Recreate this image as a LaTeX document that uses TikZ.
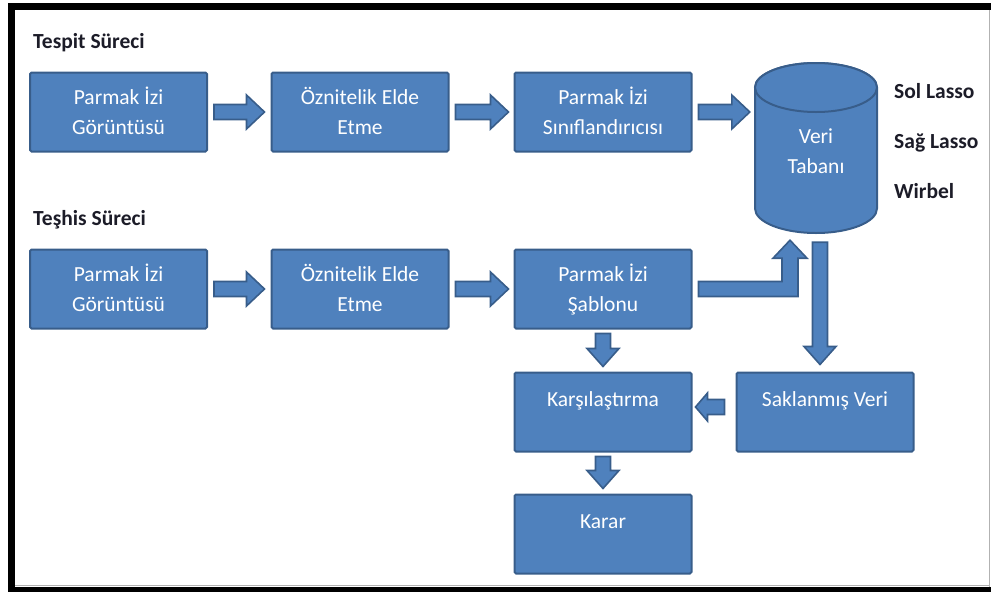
\documentclass[tikz,border=0pt]{standalone}
\usepackage{fontspec}
\setmainfont{Carlito}
\usetikzlibrary{calc}

\definecolor{boxblue}{HTML}{4F81BD}
\definecolor{boxedge}{HTML}{385D8A}
\definecolor{headtxt}{HTML}{1C1C28}

\tikzset{
  flowbox/.style={draw=boxedge, fill=boxblue, line width=2pt, rounded corners=1.5pt,
    minimum width=177pt, minimum height=79pt, inner sep=0pt, align=center,
    text=white, font=\fontsize{21.5}{30}\selectfont, text height=22pt, text depth=34pt},
  twoline/.style={flowbox, text height=50pt, text depth=5pt},
  dbtext/.style={minimum width=122pt, minimum height=170pt, inner sep=0pt, align=center,
    text=white, font=\fontsize{21.5}{30}\selectfont, text height=55pt, text depth=5pt},
  dbshape/.style={draw=boxedge, fill=boxblue, line width=2pt},
  blockarrow/.style={draw=boxedge, fill=boxblue, line width=1.6pt, line join=miter},
  heading/.style={anchor=base west, inner sep=0pt, text=headtxt,
    font=\fontsize{21.5}{26}\selectfont\bfseries},
}

% block arrow: start, end, head half width, head length
\newcommand{\blockarrow}[4]{%
  \path (#1) coordinate (ba-s) (#2) coordinate (ba-e);
  \path ($(ba-e)!#4pt!(ba-s)$) coordinate (ba-b);
  \draw[blockarrow] ($(ba-s)!7.5pt!90:(ba-e)$) -- ($(ba-b)!7.5pt!90:(ba-e)$)
    -- ($(ba-b)!#3pt!90:(ba-e)$) -- (ba-e) -- ($(ba-b)!#3pt!-90:(ba-e)$)
    -- ($(ba-b)!7.5pt!-90:(ba-e)$) -- ($(ba-s)!7.5pt!-90:(ba-e)$) -- cycle;
}

\begin{document}
\begin{tikzpicture}[x=1pt,y=-1pt]
  \useasboundingbox (0,0) rectangle (991,592);
  % frame
  \fill (8,3) rectangle (991,10);
  \fill (8,3) rectangle (15,592);
  \fill (8,587) rectangle (991,592);
  \draw[black!30, line width=1pt] (989.5,10) -- (989.5,587);
  \draw[black!30, line width=1pt] (15,585.5) -- (989.5,585.5);

  % titles
  \node[heading] (tespit) at (33,48) {Tespit Süreci};
  \node[heading] (teshis) at (33,225) {Teşhis Süreci};
  \node[heading] (sol) at (894,98) {Sol Lasso};
  \node[heading] (sag) at (894,148) {Sağ Lasso};
  \node[heading] (wirbel) at (894,198) {Wirbel};

  % first row
  \node[twoline] (tgor) at (118.5,112) {Parmak İzi\\Görüntüsü};
  \node[twoline] (tozn) at (360,112) {Öznitelik Elde\\Etme};
  \node[twoline] (tsin) at (603,112) {Parmak İzi\\Sınıflandırıcısı};

  % database
  \draw[dbshape] (755,87.5) -- (755,208.5)
    arc[start angle=180, end angle=360, x radius=61pt, y radius=24.5pt]
    -- (877,87.5)
    arc[start angle=0, end angle=180, x radius=61pt, y radius=24.5pt] -- cycle;
  \draw[dbshape] (816,87.5) ellipse [x radius=61pt, y radius=24.5pt];
  \node[dbtext] (db) at (816,148) {Veri\\Tabanı};

  % second row
  \node[twoline] (hgor) at (118.5,289) {Parmak İzi\\Görüntüsü};
  \node[twoline] (hozn) at (360,289) {Öznitelik Elde\\Etme};
  \node[twoline] (sablon) at (603,289) {Parmak İzi\\Şablonu};
  \node[flowbox] (kars) at (603,412) {Karşılaştırma};
  \node[flowbox] (karar) at (603,534) {Karar};
  \node[flowbox] (sakla) at (825,412) {Saklanmış Veri};

  % arrows
  \blockarrow{[xshift=6pt]tgor.east}{[xshift=-6pt]tozn.west}{17}{18}
  \blockarrow{[xshift=6pt]tozn.east}{[xshift=-5pt]tsin.west}{17}{18}
  \blockarrow{[xshift=6pt]tsin.east}{[xshift=-5pt]db.west |- tsin.east}{17}{18}
  \blockarrow{[xshift=6pt]hgor.east}{[xshift=-6pt]hozn.west}{17}{18}
  \blockarrow{[xshift=6pt]hozn.east}{[xshift=-5pt]sablon.west}{17}{18}
  \blockarrow{[yshift=-4pt]sablon.south}{[yshift=5pt]kars.north}{16}{18}
  \blockarrow{[yshift=-4pt]kars.south}{[yshift=5pt]karar.north}{16}{18}
  \blockarrow{[xshift=-11pt,yshift=5pt]sakla.west}{[xshift=3pt,yshift=5pt]kars.east}{14}{12}
  \coordinate (dbout) at ([xshift=4pt,yshift=-9pt]db.south);
  \blockarrow{dbout}{[yshift=7pt]dbout |- sakla.north}{16}{18}

  % bent arrow up to the database
  \coordinate (bs) at ([xshift=6pt]sablon.east);
  \coordinate (bt) at ([xshift=-26pt,yshift=-7pt]db.south);
  \draw[blockarrow] ($(bs)+(0,-7.5)$) -- ($(bt |- bs)+(-8,-7.5)$) -- ($(bt)+(-8,18)$)
    -- ($(bt)+(-17,18)$) -- (bt) -- ($(bt)+(17,18)$) -- ($(bt)+(8,18)$)
    -- ($(bt |- bs)+(8,7.5)$) -- ($(bs)+(0,7.5)$) -- cycle;
\end{tikzpicture}
\end{document}
